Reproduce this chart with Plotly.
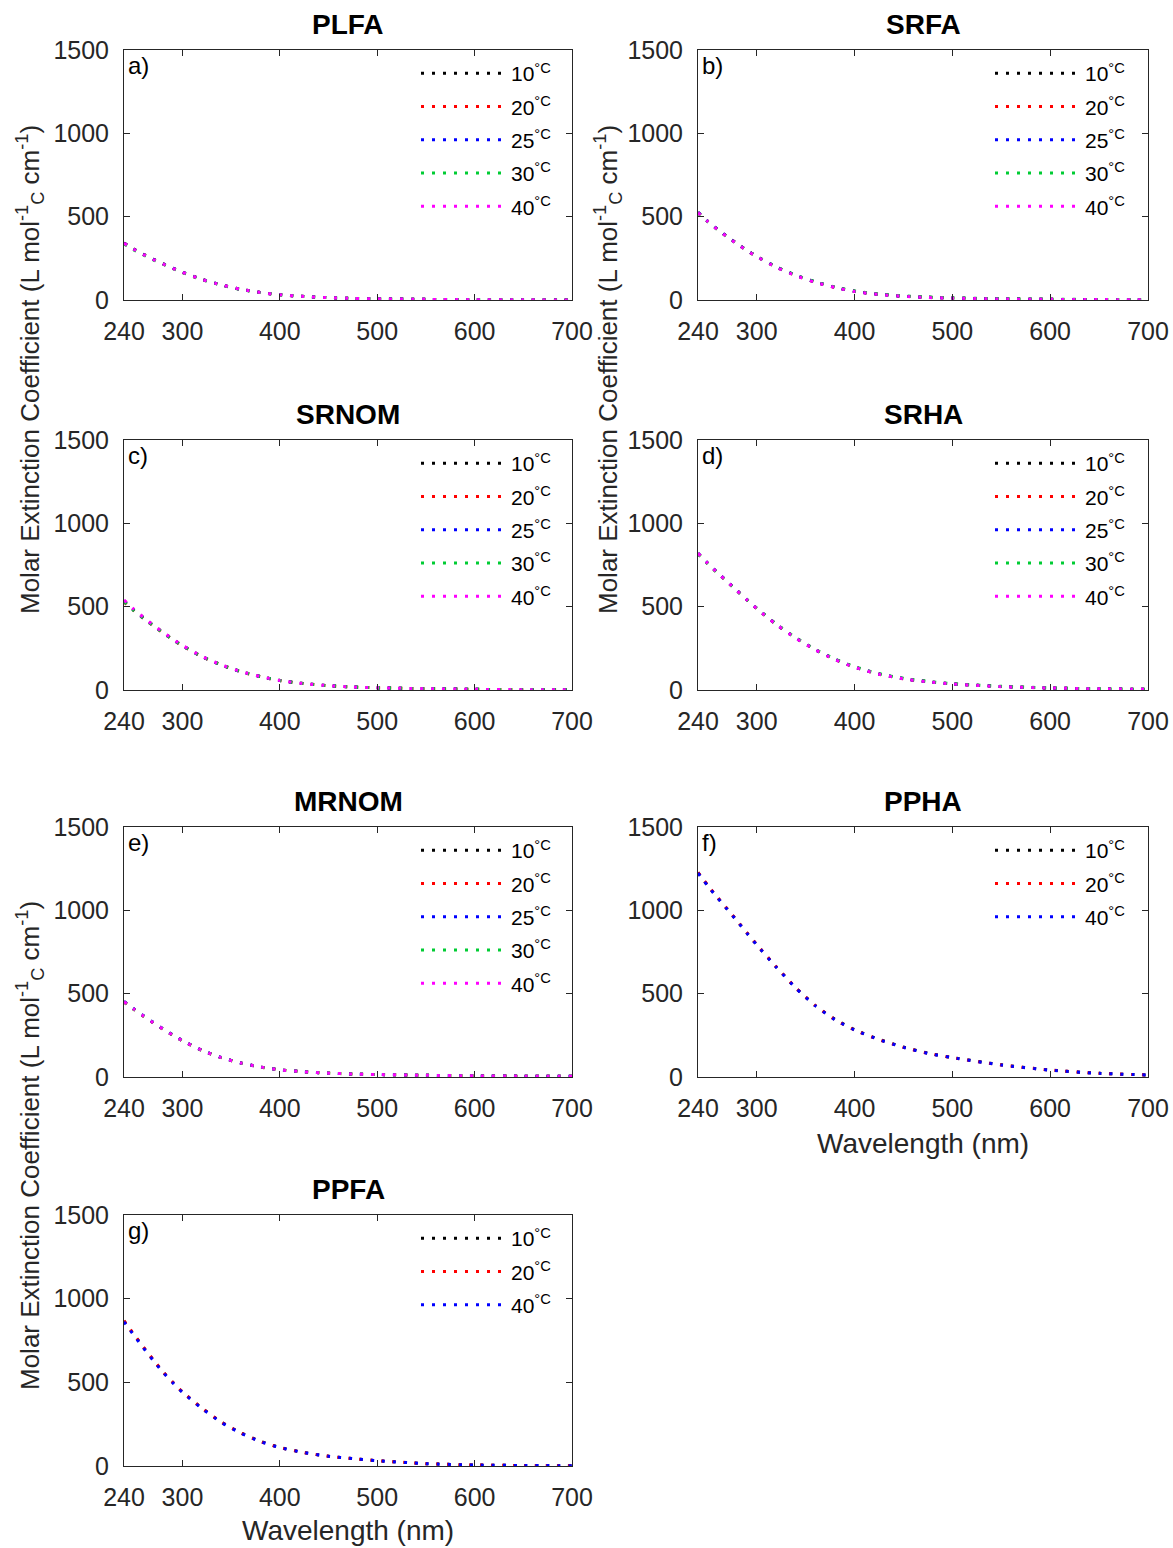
import plotly.graph_objects as go

# ---------------- data ----------------
WAVELENGTH = [240, 250, 260, 270, 280, 290, 300, 320, 340, 360, 380, 400, 425, 450, 475, 500, 550, 600, 650, 700]

TEMPS_5 = ["10", "20", "25", "30", "40"]
TEMPS_3 = ["10", "20", "40"]

PLFA_10 = [342, 306, 274, 245, 218, 192, 167, 124, 90, 64, 45, 32, 21, 14, 10, 7, 4, 2, 1, 0.5]
PLFA_20 = [340, 305, 273, 244, 217, 191, 166, 123, 90, 64, 45, 32, 21, 14, 10, 7, 4, 2, 1, 0.5]
PLFA_25 = [341, 305, 273, 244, 217, 191, 167, 124, 90, 64, 45, 32, 21, 14, 10, 7, 4, 2, 1, 0.5]
PLFA_30 = [336, 301, 270, 241, 215, 189, 165, 122, 89, 63, 45, 32, 21, 14, 10, 7, 4, 2, 1, 0.5]
PLFA_40 = [340, 304, 272, 243, 216, 190, 166, 123, 90, 64, 45, 32, 21, 14, 10, 7, 4, 2, 1, 0.5]

SRFA_10 = [526, 472, 424, 380, 338, 298, 262, 198, 148, 108, 76, 52, 34, 23, 16, 12, 7, 4, 2.5, 1.5]
SRFA_20 = [524, 471, 423, 379, 337, 297, 261, 197, 147, 107, 76, 52, 34, 23, 16, 12, 7, 4, 2.5, 1.5]
SRFA_25 = [526, 472, 424, 380, 338, 298, 262, 198, 148, 108, 76, 52, 34, 23, 16, 12, 7, 4, 2.5, 1.5]
SRFA_30 = [522, 469, 421, 378, 336, 297, 261, 198, 149, 109, 78, 54, 36, 25, 18, 13, 8, 5, 3, 2]
SRFA_40 = [524, 470, 422, 378, 336, 296, 260, 196, 146, 106, 75, 51, 33, 22, 15, 11, 6, 4, 2.5, 1.5]

SRNOM_10 = [536, 482, 434, 389, 346, 305, 267, 201, 151, 111, 81, 57, 38, 26, 18, 13, 8, 4, 2, 1]
SRNOM_20 = [528, 476, 429, 385, 343, 302, 265, 200, 150, 110, 80, 57, 38, 26, 18, 13, 8, 4, 2, 1]
SRNOM_25 = [532, 479, 431, 387, 344, 303, 266, 200, 150, 110, 80, 57, 38, 26, 18, 13, 8, 4, 2, 1]
SRNOM_30 = [530, 477, 430, 386, 344, 303, 266, 201, 151, 111, 81, 57, 38, 26, 18, 13, 8, 4, 2, 1]
SRNOM_40 = [540, 485, 436, 390, 347, 306, 268, 202, 151, 111, 81, 57, 38, 26, 18, 13, 8, 4, 2, 1]

SRHA_10 = [820, 760, 704, 650, 596, 542, 490, 394, 312, 242, 184, 138, 96, 68, 50, 37, 21, 12, 7, 4]
SRHA_20 = [818, 758, 702, 648, 595, 541, 489, 393, 311, 241, 183, 137, 95, 67, 50, 37, 21, 12, 7, 4]
SRHA_25 = [820, 760, 704, 650, 596, 542, 490, 394, 312, 242, 184, 138, 96, 68, 50, 37, 21, 12, 7, 4]
SRHA_30 = [816, 756, 701, 648, 595, 542, 491, 396, 314, 244, 186, 140, 98, 70, 52, 38, 22, 13, 7, 4]
SRHA_40 = [820, 759, 703, 649, 595, 541, 489, 393, 311, 241, 183, 137, 95, 67, 49, 36, 20, 12, 7, 4]

MRNOM_10 = [452, 408, 366, 326, 288, 252, 218, 160, 116, 84, 60, 43, 31, 23, 18, 15, 10, 7, 5, 4]
MRNOM_20 = [450, 406, 365, 325, 287, 251, 217, 159, 116, 84, 60, 43, 31, 23, 18, 15, 10, 7, 5, 4]
MRNOM_25 = [454, 410, 368, 328, 290, 253, 219, 160, 117, 84, 60, 43, 31, 23, 18, 15, 10, 7, 5, 4]
MRNOM_30 = [450, 407, 366, 326, 288, 252, 218, 160, 116, 84, 60, 43, 31, 23, 18, 15, 10, 7, 5, 4]
MRNOM_40 = [452, 408, 366, 326, 288, 252, 218, 160, 116, 84, 60, 43, 31, 23, 18, 15, 10, 7, 5, 4]

PPHA_10 = [1226, 1148, 1076, 1006, 936, 864, 794, 660, 534, 428, 346, 284, 226, 180, 143, 117, 73, 42, 22, 12]
PPHA_20 = [1228, 1150, 1078, 1008, 938, 866, 795, 661, 535, 428, 344, 282, 224, 178, 142, 116, 72, 42, 22, 12]
PPHA_40 = [1224, 1146, 1075, 1005, 935, 863, 793, 659, 533, 427, 344, 282, 224, 178, 142, 116, 72, 41, 22, 12]

PPFA_10 = [866, 786, 708, 634, 562, 500, 442, 346, 262, 198, 148, 111, 80, 58, 44, 32, 14, 6, 3, 2]
PPFA_20 = [868, 788, 710, 636, 564, 501, 443, 346, 262, 198, 146, 110, 80, 58, 44, 32, 14, 6, 3, 2]
PPFA_40 = [862, 782, 705, 631, 560, 498, 440, 344, 260, 196, 146, 110, 80, 58, 44, 32, 14, 6, 3, 2]

SAMPLE_NAMES = ["PLFA", "SRFA", "SRNOM", "SRHA", "MRNOM", "PPHA", "PPFA"]
PANEL_LABELS = ["a)", "b)", "c)", "d)", "e)", "f)", "g)"]
X_TICKS = [240, 300, 400, 500, 600, 700]
Y_TICKS = [0, 500, 1000, 1500]
X_TITLE = "Wavelength (nm)"
Y_TITLE = "Molar Extinction Coefficient (L mol<sup>-1</sup><sub>C</sub> cm<sup>-1</sup>)"

SERIES = {
    "PLFA": dict(zip(TEMPS_5, [PLFA_10, PLFA_20, PLFA_25, PLFA_30, PLFA_40])),
    "SRFA": dict(zip(TEMPS_5, [SRFA_10, SRFA_20, SRFA_25, SRFA_30, SRFA_40])),
    "SRNOM": dict(zip(TEMPS_5, [SRNOM_10, SRNOM_20, SRNOM_25, SRNOM_30, SRNOM_40])),
    "SRHA": dict(zip(TEMPS_5, [SRHA_10, SRHA_20, SRHA_25, SRHA_30, SRHA_40])),
    "MRNOM": dict(zip(TEMPS_5, [MRNOM_10, MRNOM_20, MRNOM_25, MRNOM_30, MRNOM_40])),
    "PPHA": dict(zip(TEMPS_3, [PPHA_10, PPHA_20, PPHA_40])),
    "PPFA": dict(zip(TEMPS_3, [PPFA_10, PPFA_20, PPFA_40])),
}

# ---------------- style ----------------
COLORS = {"10": "#000000", "20": "#ff0000", "25": "#0000ff", "30": "#00cc33", "40": "#ff00ff"}
COLORS_3 = {"10": "#000000", "20": "#ff0000", "40": "#0000ff"}
W, H = 1173, 1548
FONT = "Liberation Sans, Arial, Helvetica, sans-serif"
AX_COLOR = "#262626"

# target positions in screen pixels
COL_PX = [(124, 572), (698, 1148)]
ROW_PX = [(50, 300), (440, 690), (827, 1077), (1215, 1466)]


def px_x(px):
    return px / W


def px_y(py):
    return 1 - py / H


fig = go.Figure()
annotations = []
layout = dict(
    width=W, height=H, margin=dict(l=0, r=0, t=0, b=0, autoexpand=False),
    paper_bgcolor="white", plot_bgcolor="white",
    font=dict(family=FONT, size=25, color=AX_COLOR),
)

for i, name in enumerate(SAMPLE_NAMES):
    r, c = divmod(i, 2)
    n = i + 1
    xa = "x" if n == 1 else f"x{n}"
    ya = "y" if n == 1 else f"y{n}"
    leg = "legend" if n == 1 else f"legend{n}"
    x0, x1 = COL_PX[c]
    y0, y1 = ROW_PX[r]
    xdom = [px_x(x0), px_x(x1)]
    ydom = [px_y(y1), px_y(y0)]
    cmap = COLORS if len(SERIES[name]) == 5 else COLORS_3
    for k, t in enumerate(SERIES[name]):
        fig.add_trace(go.Scatter(
            x=WAVELENGTH, y=SERIES[name][t], mode="lines",
            line=dict(color=cmap[t], width=3, dash="3px,8px", shape="spline", smoothing=0.6),
            name=f"{t}<sup>°C</sup>", xaxis=xa, yaxis=ya, legend=leg,
            legendgroup=f"{name}{t}", showlegend=True,
        ))
    axis_common = dict(
        showline=True, mirror="ticks", linecolor=AX_COLOR, linewidth=1,
        ticks="inside", ticklen=6, tickwidth=1, tickcolor=AX_COLOR,
        showgrid=False, zeroline=False, automargin=False,
        tickfont=dict(family=FONT, size=25, color=AX_COLOR),
    )
    layout["xaxis" if n == 1 else f"xaxis{n}"] = dict(
        axis_common, domain=xdom, range=[240, 700], tickvals=X_TICKS,
        anchor=ya, ticklabelstandoff=9,
    )
    layout["yaxis" if n == 1 else f"yaxis{n}"] = dict(
        axis_common, domain=ydom, range=[0, 1500], tickvals=Y_TICKS,
        anchor=xa, ticklabelstandoff=9,
    )
    layout[leg] = dict(
        x=px_x(x0 + 292), xanchor="left",
        y=px_y(y0 + 3), yanchor="top",
        bgcolor="rgba(0,0,0,0)", borderwidth=0,
        font=dict(family=FONT, size=21, color="#000000"),
        traceorder="grouped", tracegroupgap=3, itemwidth=85,
    )
    # subplot title
    annotations.append(dict(
        text=f"<b>{name}</b>", xref=f"{xa} domain", yref=f"{ya} domain",
        x=0.5, y=1, xanchor="center", yanchor="bottom", yshift=8, showarrow=False,
        font=dict(family=FONT, size=28, color="#000000"),
    ))
    # panel label
    annotations.append(dict(
        text=PANEL_LABELS[i], xref=f"{xa} domain", yref=f"{ya} domain",
        x=0.005, y=1, xanchor="left", yanchor="top", yshift=0, showarrow=False,
        font=dict(family=FONT, size=24, color="#000000"),
    ))

# y axis titles
for (px, py) in [(30, 370), (608, 370), (30, 1146)]:
    annotations.append(dict(
        text=Y_TITLE, xref="paper", yref="paper", x=px_x(px), y=px_y(py),
        xanchor="center", yanchor="middle", textangle=-90, showarrow=False,
        font=dict(family=FONT, size=26, color=AX_COLOR),
    ))
# x axis titles
for (px, py) in [(923, 1143), (348, 1530)]:
    annotations.append(dict(
        text=X_TITLE, xref="paper", yref="paper", x=px_x(px), y=px_y(py),
        xanchor="center", yanchor="middle", showarrow=False,
        font=dict(family=FONT, size=28, color=AX_COLOR),
    ))

layout["annotations"] = annotations
fig.update_layout(**layout)
fig.write_html(
    "out.html",
    config={"displayModeBar": False},
    post_script="document.body.style.margin='0';document.body.style.overflow='hidden';",
)
